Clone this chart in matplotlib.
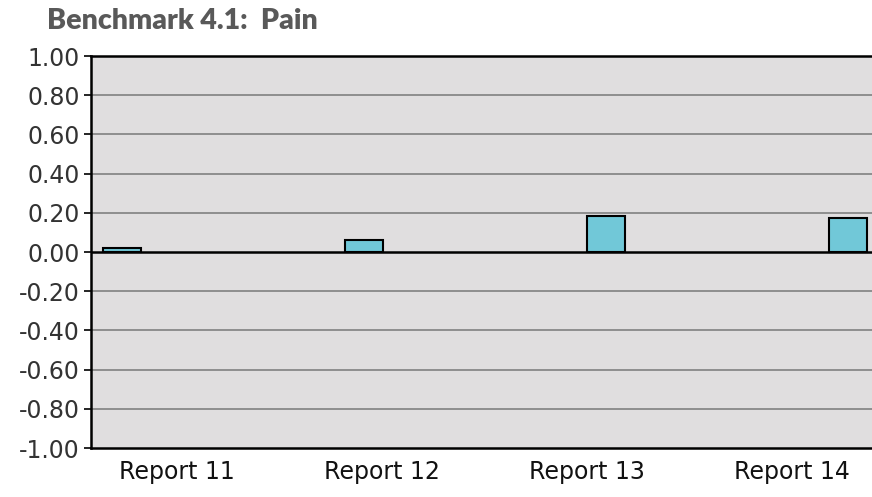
import matplotlib.pyplot as plt

# values
reports = ['Report 11', 'Report 12', 'Report 13', 'Report 14']
pain = [0.02, 0.06, 0.185, 0.175]
y_ticks = [-1.0, -0.8, -0.6, -0.4, -0.2, 0.0, 0.2, 0.4, 0.6, 0.8, 1.0]

W, H = 872, 497
fig = plt.figure(figsize=(W / 100, H / 100), dpi=100)
ax = fig.add_axes([91 / W, (H - 448) / H, (W - 91) / W, (448 - 56) / H])
ax.set_facecolor('#e0dedf')

x = range(len(reports))
ax.bar(x, pain, width=0.157, color='#71c8d8', edgecolor='black', linewidth=1.5,
       zorder=3)

ax.set_ylim(-1, 1)
ax.set_xlim(-0.128, 3.1)
ax.set_yticks(y_ticks)
ax.set_yticklabels(['%.2f' % v for v in y_ticks])
for v in y_ticks:
    if v == 0:
        ax.axhline(v, color='black', lw=1.8, zorder=4)
    elif abs(v) < 1:
        ax.axhline(v, color='#8e8e8e', lw=1.4, zorder=1)

# category labels sit off the bar centres in the original
ax.set_xticks([0.227, 1.074, 1.92, 2.77])
ax.set_xticklabels(reports)
ax.tick_params(axis='x', length=0, pad=9, labelsize=17, labelcolor='#111111')
ax.tick_params(axis='y', length=5, width=1.2, pad=3, labelsize=17,
               labelcolor='#333333')
for lab in ax.get_xticklabels() + ax.get_yticklabels():
    lab.set_family('DejaVu Sans')

for s in ['left', 'bottom', 'top']:
    ax.spines[s].set_color('black')
    ax.spines[s].set_linewidth(1.8)
ax.spines['right'].set_visible(False)

fig.text(47 / W, 1 - 21 / H, 'Benchmark 4.1:  Pain', family='Lato',
         fontweight='heavy', fontsize=20.5, color='#595959', va='center')

fig.savefig('out.png', dpi=100)
